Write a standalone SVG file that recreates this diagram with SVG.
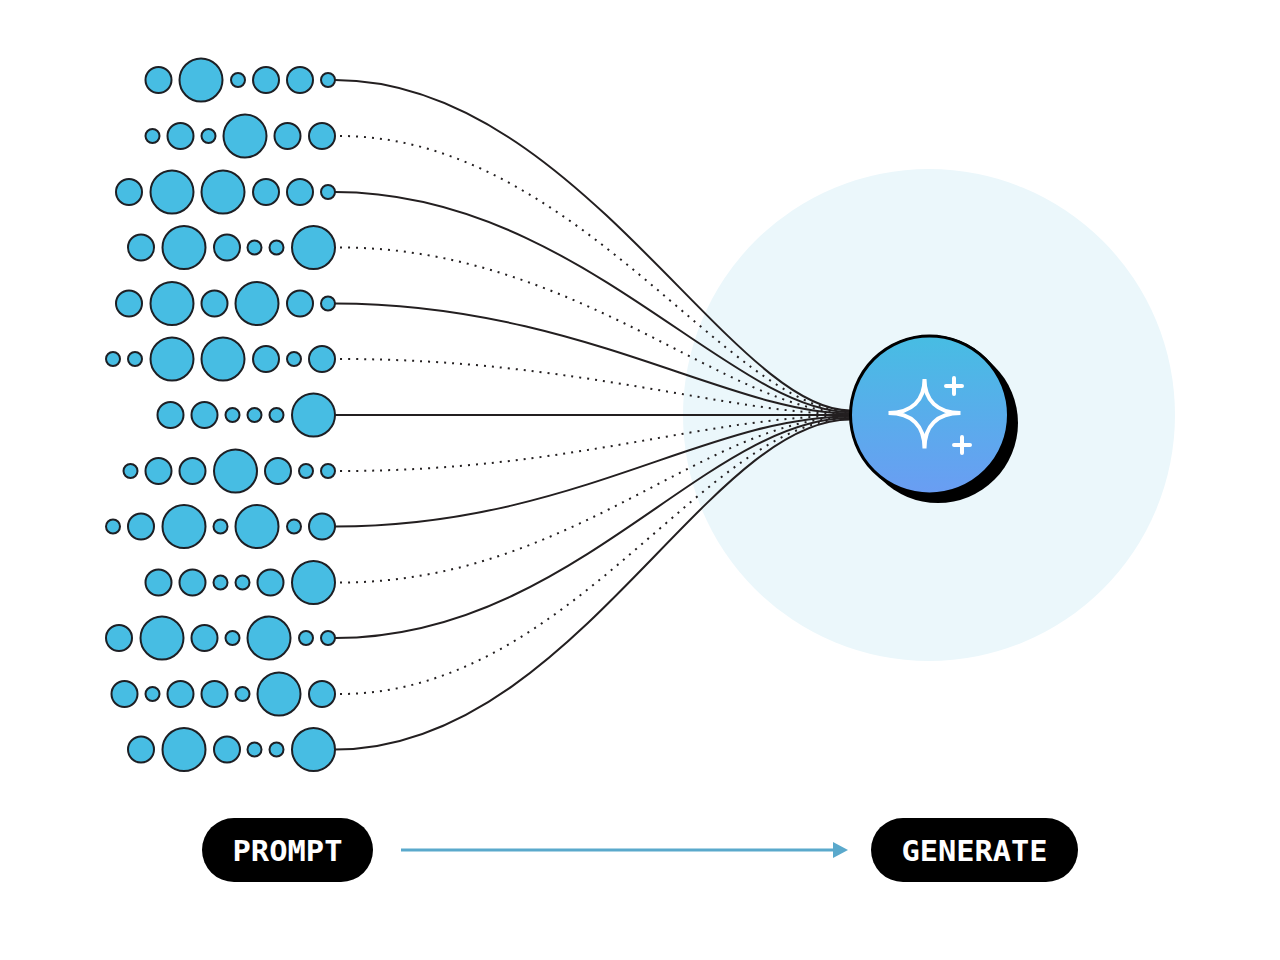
<svg xmlns="http://www.w3.org/2000/svg" width="1280" height="960" viewBox="0 0 1280 960">
<style>
.d{fill:#47bde3;stroke:#1d1f24;stroke-width:2}
.c{fill:none;stroke:#231f20;stroke-width:2}
.o{fill:none;stroke:#231f20;stroke-width:2;stroke-dasharray:2 6}
.w{fill:none;stroke:#fff;stroke-width:4;stroke-linecap:round}
.t{font-family:"DejaVu Sans Mono",monospace;font-weight:700;font-size:29px;fill:#fff;text-anchor:middle}
</style>
<defs>
<linearGradient id="g" x1="0" y1="0" x2="0" y2="1"><stop offset="0" stop-color="#47bde3"/><stop offset="1" stop-color="#6a9df3"/></linearGradient>
<marker id="a" markerUnits="userSpaceOnUse" markerWidth="16" markerHeight="18" refX="8" refY="9" orient="auto"><path d="M0 1L15 9L0 17Z" fill="#5aa9cc"/></marker>
</defs>
<rect width="1280" height="960" fill="#fff"/>
<circle id="halo" cx="929" cy="415" r="246" fill="#ebf7fb"/>
<g id="connectors">
<path class="c" d="M335 80C575 80 730 410.500 850 410.500"/>
<path class="o" d="M340 136C575 136 730 411.250 850 411.250"/>
<path class="c" d="M335 192C575 192 730 412 850 412"/>
<path class="o" d="M340 247.500C575 247.500 730 412.750 850 412.750"/>
<path class="c" d="M335 303.500C575 303.500 730 413.500 850 413.500"/>
<path class="o" d="M340 359C575 359 730 414.250 850 414.250"/>
<path class="c" d="M335 415H850"/>
<path class="o" d="M340 471C571 471 706 415.750 850 415.750"/>
<path class="c" d="M335 526.500C571 526.500 706 416.500 850 416.500"/>
<path class="o" d="M340 582.500C571 582.500 706 417.250 850 417.250"/>
<path class="c" d="M335 638C571 638 706 418 850 418"/>
<path class="o" d="M340 694C571 694 706 418.750 850 418.750"/>
<path class="c" d="M335 749.500C571 749.500 706 419.500 850 419.500"/>
</g>
<g id="row1"><circle class="d" cx="158.500" cy="80" r="13"/><circle class="d" cx="201" cy="80" r="21.500"/><circle class="d" cx="238" cy="80" r="7"/><circle class="d" cx="266" cy="80" r="13"/><circle class="d" cx="300" cy="80" r="13"/><circle class="d" cx="328" cy="80" r="7"/></g>
<g id="row2"><circle class="d" cx="152.500" cy="136" r="7"/><circle class="d" cx="180.500" cy="136" r="13"/><circle class="d" cx="208.500" cy="136" r="7"/><circle class="d" cx="245" cy="136" r="21.500"/><circle class="d" cx="287.500" cy="136" r="13"/><circle class="d" cx="322" cy="136" r="13"/></g>
<g id="row3"><circle class="d" cx="129" cy="192" r="13"/><circle class="d" cx="172" cy="192" r="21.500"/><circle class="d" cx="223" cy="192" r="21.500"/><circle class="d" cx="266" cy="192" r="13"/><circle class="d" cx="300" cy="192" r="13"/><circle class="d" cx="328" cy="192" r="7"/></g>
<g id="row4"><circle class="d" cx="141" cy="247.500" r="13"/><circle class="d" cx="184" cy="247.500" r="21.500"/><circle class="d" cx="227" cy="247.500" r="13"/><circle class="d" cx="254.500" cy="247.500" r="7"/><circle class="d" cx="276.500" cy="247.500" r="7"/><circle class="d" cx="313.500" cy="247.500" r="21.500"/></g>
<g id="row5"><circle class="d" cx="129" cy="303.500" r="13"/><circle class="d" cx="172" cy="303.500" r="21.500"/><circle class="d" cx="214.500" cy="303.500" r="13"/><circle class="d" cx="257" cy="303.500" r="21.500"/><circle class="d" cx="300" cy="303.500" r="13"/><circle class="d" cx="328" cy="303.500" r="7"/></g>
<g id="row6"><circle class="d" cx="113" cy="359" r="7"/><circle class="d" cx="135" cy="359" r="7"/><circle class="d" cx="172" cy="359" r="21.500"/><circle class="d" cx="223" cy="359" r="21.500"/><circle class="d" cx="266" cy="359" r="13"/><circle class="d" cx="294" cy="359" r="7"/><circle class="d" cx="322" cy="359" r="13"/></g>
<g id="row7"><circle class="d" cx="170.500" cy="415" r="13"/><circle class="d" cx="204.500" cy="415" r="13"/><circle class="d" cx="232.500" cy="415" r="7"/><circle class="d" cx="254.500" cy="415" r="7"/><circle class="d" cx="276.500" cy="415" r="7"/><circle class="d" cx="313.500" cy="415" r="21.500"/></g>
<g id="row8"><circle class="d" cx="130.500" cy="471" r="7"/><circle class="d" cx="158.500" cy="471" r="13"/><circle class="d" cx="192.500" cy="471" r="13"/><circle class="d" cx="235.500" cy="471" r="21.500"/><circle class="d" cx="278" cy="471" r="13"/><circle class="d" cx="306" cy="471" r="7"/><circle class="d" cx="328" cy="471" r="7"/></g>
<g id="row9"><circle class="d" cx="113" cy="526.500" r="7"/><circle class="d" cx="141" cy="526.500" r="13"/><circle class="d" cx="184" cy="526.500" r="21.500"/><circle class="d" cx="220.500" cy="526.500" r="7"/><circle class="d" cx="257" cy="526.500" r="21.500"/><circle class="d" cx="294" cy="526.500" r="7"/><circle class="d" cx="322" cy="526.500" r="13"/></g>
<g id="row10"><circle class="d" cx="158.500" cy="582.500" r="13"/><circle class="d" cx="192.500" cy="582.500" r="13"/><circle class="d" cx="220.500" cy="582.500" r="7"/><circle class="d" cx="242.500" cy="582.500" r="7"/><circle class="d" cx="270.500" cy="582.500" r="13"/><circle class="d" cx="313.500" cy="582.500" r="21.500"/></g>
<g id="row11"><circle class="d" cx="119" cy="638" r="13"/><circle class="d" cx="162" cy="638" r="21.500"/><circle class="d" cx="204.500" cy="638" r="13"/><circle class="d" cx="232.500" cy="638" r="7"/><circle class="d" cx="269" cy="638" r="21.500"/><circle class="d" cx="306" cy="638" r="7"/><circle class="d" cx="328" cy="638" r="7"/></g>
<g id="row12"><circle class="d" cx="124.500" cy="694" r="13"/><circle class="d" cx="152.500" cy="694" r="7"/><circle class="d" cx="180.500" cy="694" r="13"/><circle class="d" cx="214.500" cy="694" r="13"/><circle class="d" cx="242.500" cy="694" r="7"/><circle class="d" cx="279" cy="694" r="21.500"/><circle class="d" cx="322" cy="694" r="13"/></g>
<g id="row13"><circle class="d" cx="141" cy="749.500" r="13"/><circle class="d" cx="184" cy="749.500" r="21.500"/><circle class="d" cx="227" cy="749.500" r="13"/><circle class="d" cx="254.500" cy="749.500" r="7"/><circle class="d" cx="276.500" cy="749.500" r="7"/><circle class="d" cx="313.500" cy="749.500" r="21.500"/></g>
<g id="generator">
<line x1="930" y1="415" x2="938" y2="423" stroke="#000" stroke-width="160" stroke-linecap="round"/>
<circle cx="929.500" cy="415" r="79" fill="url(#g)" stroke="#000" stroke-width="3"/>
<path class="w" d="M924.500 379C924.500 400 912 413 888.500 413C912 413 924.500 426 924.500 448.500C924.500 426 937 413 960.500 413C937 413 924.500 400 924.500 379Z"/>
<path class="w" d="M954 378V394M946 386H962M962 437V453M954 445H970"/>
</g>
<g id="prompt"><rect x="202" y="818" width="171" height="64" rx="32" fill="#000"/><text class="t" x="287.500" y="861" textLength="110" lengthAdjust="spacingAndGlyphs">PROMPT</text></g>
<g id="flow"><line x1="401" y1="850" x2="841" y2="850" stroke="#5aa9cc" stroke-width="3" marker-end="url(#a)"/></g>
<g id="generate"><rect x="871" y="818" width="207" height="64" rx="32" fill="#000"/><text class="t" x="974.500" y="861" textLength="146" lengthAdjust="spacingAndGlyphs">GENERATE</text></g>
</svg>
